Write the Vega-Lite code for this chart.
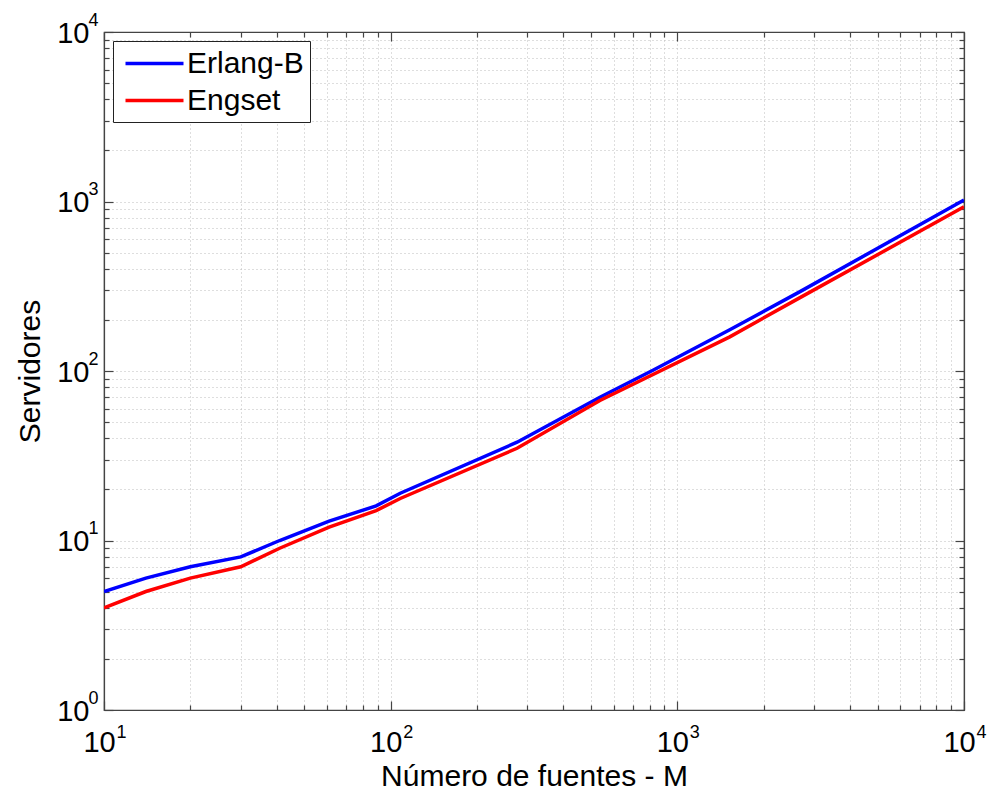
{
  "$schema": "https://vega.github.io/schema/vega-lite/v6.json",
  "width": 860,
  "height": 678,
  "autosize": {"type": "none"},
  "padding": {"left": 104, "top": 32, "right": 26, "bottom": 80},
  "background": "white",
  "config": {
    "font": "Liberation Sans",
    "view": {"stroke": "#444", "strokeWidth": 1.2},
    "axis": {
      "labelFont": "Liberation Sans",
      "titleFont": "Liberation Sans",
      "labelColor": "black",
      "titleColor": "black",
      "domainColor": "#444",
      "domainWidth": 1.2,
      "tickColor": "#444",
      "tickWidth": 1.2,
      "titleFontWeight": "normal",
      "labelFlush": false,
      "labelOverlap": false,
      "labelBound": false,
      "gridDash": [1, 3],
      "gridColor": "#bdbdbd",
      "gridWidth": 1
    }
  },
  "data": {
    "values": [
      {"M": 10, "S": 5, "serie": "Erlang-B"},
      {"M": 14, "S": 6, "serie": "Erlang-B"},
      {"M": 20, "S": 7, "serie": "Erlang-B"},
      {"M": 30, "S": 8, "serie": "Erlang-B"},
      {"M": 41, "S": 10, "serie": "Erlang-B"},
      {"M": 61, "S": 13, "serie": "Erlang-B"},
      {"M": 89, "S": 16, "serie": "Erlang-B"},
      {"M": 108, "S": 19, "serie": "Erlang-B"},
      {"M": 276, "S": 38, "serie": "Erlang-B"},
      {"M": 537, "S": 70, "serie": "Erlang-B"},
      {"M": 822, "S": 101, "serie": "Erlang-B"},
      {"M": 1524, "S": 175, "serie": "Erlang-B"},
      {"M": 2679, "S": 294, "serie": "Erlang-B"},
      {"M": 10000, "S": 1020, "serie": "Erlang-B"},
      {"M": 10, "S": 4, "serie": "Engset"},
      {"M": 14, "S": 5, "serie": "Engset"},
      {"M": 20, "S": 6, "serie": "Engset"},
      {"M": 30, "S": 7, "serie": "Engset"},
      {"M": 41, "S": 9, "serie": "Engset"},
      {"M": 61, "S": 12, "serie": "Engset"},
      {"M": 89, "S": 15, "serie": "Engset"},
      {"M": 108, "S": 17.7, "serie": "Engset"},
      {"M": 276, "S": 35, "serie": "Engset"},
      {"M": 537, "S": 67, "serie": "Engset"},
      {"M": 1524, "S": 159, "serie": "Engset"},
      {"M": 2679, "S": 271, "serie": "Engset"},
      {"M": 10000, "S": 930, "serie": "Engset"}
    ]
  },
  "layer": [
    {
      "mark": {"type": "line", "strokeWidth": 3.5, "clip": true},
      "encoding": {
        "x": {
          "field": "M",
          "type": "quantitative",
          "scale": {"type": "log", "domain": [10, 10000], "nice": false},
          "axis": {
            "orient": "bottom",
            "values": [10, 20, 30, 40, 50, 60, 70, 80, 90, 100, 200, 300, 400, 500, 600, 700, 800, 900, 1000, 2000, 3000, 4000, 5000, 6000, 7000, 8000, 9000, 10000],
            "labelExpr": "indexof([10,100,1000,10000], datum.value) >= 0 ? '10' : ''",
            "labelFontSize": 29,
            "labelBaseline": "alphabetic",
            "labelAlign": "center",
            "labelOffset": -5,
            "labelPadding": 50,
            "tickSize": {"condition": {"test": "indexof([10,100,1000,10000], datum.value) >= 0", "value": -9}, "value": -5},
            "grid": true,
            "title": "Número de fuentes - M",
            "titleFontSize": 30,
            "titlePadding": 0
          }
        },
        "y": {
          "field": "S",
          "type": "quantitative",
          "scale": {"type": "log", "domain": [1, 10000], "nice": false},
          "axis": {
            "orient": "left",
            "values": [1, 2, 3, 4, 5, 6, 7, 8, 9, 10, 20, 30, 40, 50, 60, 70, 80, 90, 100, 200, 300, 400, 500, 600, 700, 800, 900, 1000, 2000, 3000, 4000, 5000, 6000, 7000, 8000, 9000, 10000],
            "labelExpr": "indexof([1,10,100,1000,10000], datum.value) >= 0 ? '10' : ''",
            "labelFontSize": 29,
            "labelBaseline": "middle",
            "labelOffset": 1,
            "labelPadding": 24,
            "tickSize": {"condition": {"test": "indexof([1,10,100,1000,10000], datum.value) >= 0", "value": -9}, "value": -5},
            "grid": true,
            "title": "Servidores",
            "titleFontSize": 30,
            "titlePadding": 11
          }
        },
        "color": {
          "field": "serie",
          "type": "nominal",
          "scale": {"domain": ["Erlang-B", "Engset"], "range": ["#0000ff", "#ff0000"]},
          "legend": {
            "orient": "top-left",
            "offset": 9,
            "padding": 6,
            "title": null,
            "strokeColor": "#222",
            "fillColor": "white",
            "symbolType": "M-2,0H2",
            "symbolSize": 841,
            "symbolStrokeWidth": 3.5,
            "symbolOffset": 19,
            "labelFontSize": 30,
            "labelFont": "Liberation Sans",
            "labelColor": "black",
            "labelOffset": 16,
            "labelLimit": 0,
            "rowPadding": 5
          }
        }
      }
    },
    {
      "mark": {"type": "point", "opacity": 0},
      "encoding": {
        "x": {
          "field": "M",
          "type": "quantitative",
          "scale": {"type": "log", "domain": [10, 10000], "nice": false},
          "axis": {
            "orient": "top",
            "values": [10, 20, 30, 40, 50, 60, 70, 80, 90, 100, 200, 300, 400, 500, 600, 700, 800, 900, 1000, 2000, 3000, 4000, 5000, 6000, 7000, 8000, 9000, 10000],
            "labels": false,
            "grid": false,
            "title": null,
            "tickSize": {"condition": {"test": "indexof([10,100,1000,10000], datum.value) >= 0", "value": -9}, "value": -5}
          }
        },
        "y": {
          "field": "S",
          "type": "quantitative",
          "scale": {"type": "log", "domain": [1, 10000], "nice": false},
          "axis": {
            "orient": "right",
            "values": [1, 2, 3, 4, 5, 6, 7, 8, 9, 10, 20, 30, 40, 50, 60, 70, 80, 90, 100, 200, 300, 400, 500, 600, 700, 800, 900, 1000, 2000, 3000, 4000, 5000, 6000, 7000, 8000, 9000, 10000],
            "labels": false,
            "grid": false,
            "title": null,
            "tickSize": {"condition": {"test": "indexof([1,10,100,1000,10000], datum.value) >= 0", "value": -9}, "value": -5}
          }
        }
      }
    },
    {
      "mark": {"type": "point", "opacity": 0},
      "encoding": {
        "x": {
          "field": "M",
          "type": "quantitative",
          "scale": {"type": "log", "domain": [10, 10000], "nice": false},
          "axis": {
            "orient": "bottom",
            "values": [10, 100, 1000, 10000],
            "labelExpr": "'' + round(log(datum.value) / LN10)",
            "labelFontSize": 18,
            "labelBaseline": "alphabetic",
            "labelAlign": "left",
            "labelOffset": 12,
            "labelPadding": 27,
            "ticks": false,
            "tickSize": 0,
            "domain": false,
            "grid": false,
            "title": null
          }
        },
        "y": {
          "field": "S",
          "type": "quantitative",
          "scale": {"type": "log", "domain": [1, 10000], "nice": false},
          "axis": {
            "orient": "left",
            "values": [1, 10, 100, 1000, 10000],
            "labelExpr": "'' + round(log(datum.value) / LN10)",
            "labelFontSize": 18,
            "labelBaseline": "middle",
            "labelAlign": "left",
            "labelOffset": -12,
            "labelPadding": 16,
            "ticks": false,
            "tickSize": 0,
            "domain": false,
            "grid": false,
            "title": null
          }
        }
      }
    }
  ],
  "resolve": {"axis": {"x": "independent", "y": "independent"}}
}
